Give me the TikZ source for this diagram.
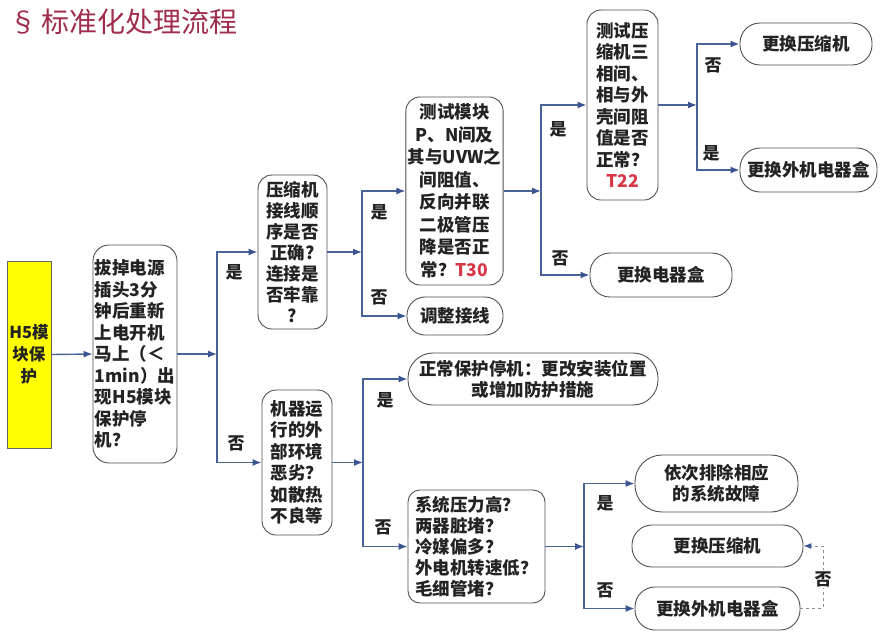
\documentclass[tikz,border=0pt]{standalone}
\usepackage{fontspec}
\setmainfont{Noto Sans CJK SC}
\usetikzlibrary{arrows.meta}
\definecolor{lineblue}{RGB}{72,100,150}
\definecolor{tipblue}{RGB}{58,84,145}
\definecolor{titlered}{RGB}{160,45,75}
\definecolor{codered}{RGB}{215,55,70}
\definecolor{h5yellow}{RGB}{255,255,0}
\definecolor{boxline}{RGB}{80,80,80}
\definecolor{txt}{RGB}{35,35,35}
\tikzset{
  box/.style={draw=boxline, line width=0.9pt, fill=white, rounded corners=14pt,
    inner sep=2pt, font=\fontsize{17.5}{21}\selectfont\bfseries, text=txt},
  term/.style={box, rounded corners=20pt},
  arr/.style={draw=lineblue, line width=1.4pt, -{Latex[length=9pt,width=7pt,color=tipblue]}},
  dasharr/.style={draw=black!45, line width=1pt, dashed, -{Latex[length=8pt,width=6pt,color=tipblue]}},
  lab/.style={font=\fontsize{17}{17}\selectfont\bfseries, text=txt, inner sep=1pt},
}
\begin{document}
\begin{tikzpicture}[x=1pt, y=-1pt]
\useasboundingbox (0,0) rectangle (880,635);
\fill[white] (0,0) rectangle (880,635);

\node[anchor=west, inner sep=0pt, text=titlered, font=\fontsize{28}{28}\selectfont] (title) at (9,22) {§\,标准化处理流程};

% nodes
\node[box, rounded corners=0pt, fill=h5yellow, draw=black!60, minimum width=44pt, minimum height=187pt,
  font=\fontsize{16.5}{22}\selectfont\bfseries, align=center] (h5) at (29,354.5) {H5模\\块保\\护};
\node[box, rounded corners=16pt, minimum width=84pt, minimum height=218pt, align=left,
  font=\fontsize{17.5}{21.5}\selectfont\bfseries] (b2) at (135,354)
  {拔掉电源\\插头3分\\钟后重新\\上电开机\\马上（＜\\1min）出\\现H5模块\\保护停\\机？};
\node[box, minimum width=69pt, minimum height=154pt, align=center] (b3) at (292.5,252)
  {压缩机\\接线顺\\序是否\\正确?\\连接是\\否牢靠\\?};
\node[box, minimum width=95pt, minimum height=188pt, align=center,
  font=\fontsize{17.5}{22.5}\selectfont\bfseries] (b4) at (454.5,191)
  {测试模块\\P、N间及\\其与UVW之\\间阻值、\\反向并联\\二极管压\\降是否正\\常？\textcolor{codered}{T30}};
\node[term, rounded corners=18pt, minimum width=96pt, minimum height=38pt] (b5) at (455,316) {调整接线};
\node[box, minimum width=71pt, minimum height=190pt, align=center,
  font=\fontsize{17.5}{21.5}\selectfont\bfseries] (b6) at (622.5,105)
  {测试压\\缩机三\\相间、\\相与外\\壳间阻\\值是否\\正常？\\\textcolor{codered}{T22}};
\node[term, minimum width=142pt, minimum height=44pt] (b7) at (661,275) {更换电器盒};
\node[term, minimum width=132pt, minimum height=42pt] (b8) at (806,44) {更换压缩机};
\node[term, minimum width=137pt, minimum height=44pt] (b9) at (808.5,170) {更换外机电器盒};
\node[box, minimum width=70pt, minimum height=145pt, align=left,
  font=\fontsize{17.5}{21.5}\selectfont\bfseries] (b10) at (297,462.5)
  {机器运\\行的外\\部环境\\恶劣？\\如散热\\不良等};
\node[box, rounded corners=25pt, minimum width=250pt, minimum height=52pt, align=center] (b11) at (533,379)
  {正常保护停机：更改安装位置\\或增加防护措施};
\node[box, rounded corners=12pt, minimum width=137pt, minimum height=113pt, align=left] (b12) at (476.5,546.5)
  {系统压力高？\\两器脏堵？\\冷媒偏多？\\外电机转速低？\\毛细管堵？};
\node[box, rounded corners=27pt, minimum width=163pt, minimum height=57pt, align=center] (b13) at (716.5,483.5)
  {依次排除相应\\的系统故障};
\node[term, minimum width=171pt, minimum height=42pt] (b14) at (717.5,546) {更换压缩机};
\node[term, minimum width=165pt, minimum height=43pt] (b15) at (717.5,608.5) {更换外机电器盒};

% junctions
\coordinate (j1) at (217,354);
\coordinate (j2) at (362,252);
\coordinate (j3) at (541,191);
\coordinate (j4) at (697,105);
\coordinate (j5) at (363,462.5);
\coordinate (j6) at (584,546.5);
\coordinate (d1) at (823,608.5);

% connectors
\draw[arr] (h5.east) -- (b2.west);
\draw[arr] (b2.east) -- (j1);
\draw[arr] (j1) |- (b3.west);
\draw[arr] (j1) |- (b10.west);

\draw[arr] (b3.east) -- (j2);
\draw[arr] (j2) |- (b4.west);
\draw[arr] (j2) |- (b5.west);

\draw[arr] (b4.east) -- (j3);
\draw[arr] (j3) |- (b6.west);
\draw[arr] (j3) |- (b7.west);

\draw[arr] (b6.east) -- (j4);
\draw[arr] (j4) |- (b8.west);
\draw[arr] (j4) |- (b9.west);

\draw[arr] (b10.east) -- (j5);
\draw[arr] (j5) |- (b11.west);
\draw[arr] (j5) |- (b12.west);

\draw[arr] (b12.east) -- (j6);
\draw[arr] (j6) |- (b13.west);
\draw[arr] (j6) |- (b15.west);

\draw[dasharr] (b15.east) -- (d1) |- (b14.east);

% labels
\node[lab] (l1) at (234,272) {是};
\node[lab] (l2) at (236,443) {否};
\node[lab] (l3) at (379,212) {是};
\node[lab] (l4) at (379,297) {否};
\node[lab] (l5) at (558,129) {是};
\node[lab] (l6) at (560,258) {否};
\node[lab] (l7) at (713,65) {否};
\node[lab] (l8) at (711,153) {是};
\node[lab] (l9) at (385,400) {是};
\node[lab] (l10) at (383,527) {否};
\node[lab] (l11) at (605,503) {是};
\node[lab] (l12) at (605,590) {否};
\node[lab, fill=white] (l13) at (823,579) {否};
\end{tikzpicture}
\end{document}
